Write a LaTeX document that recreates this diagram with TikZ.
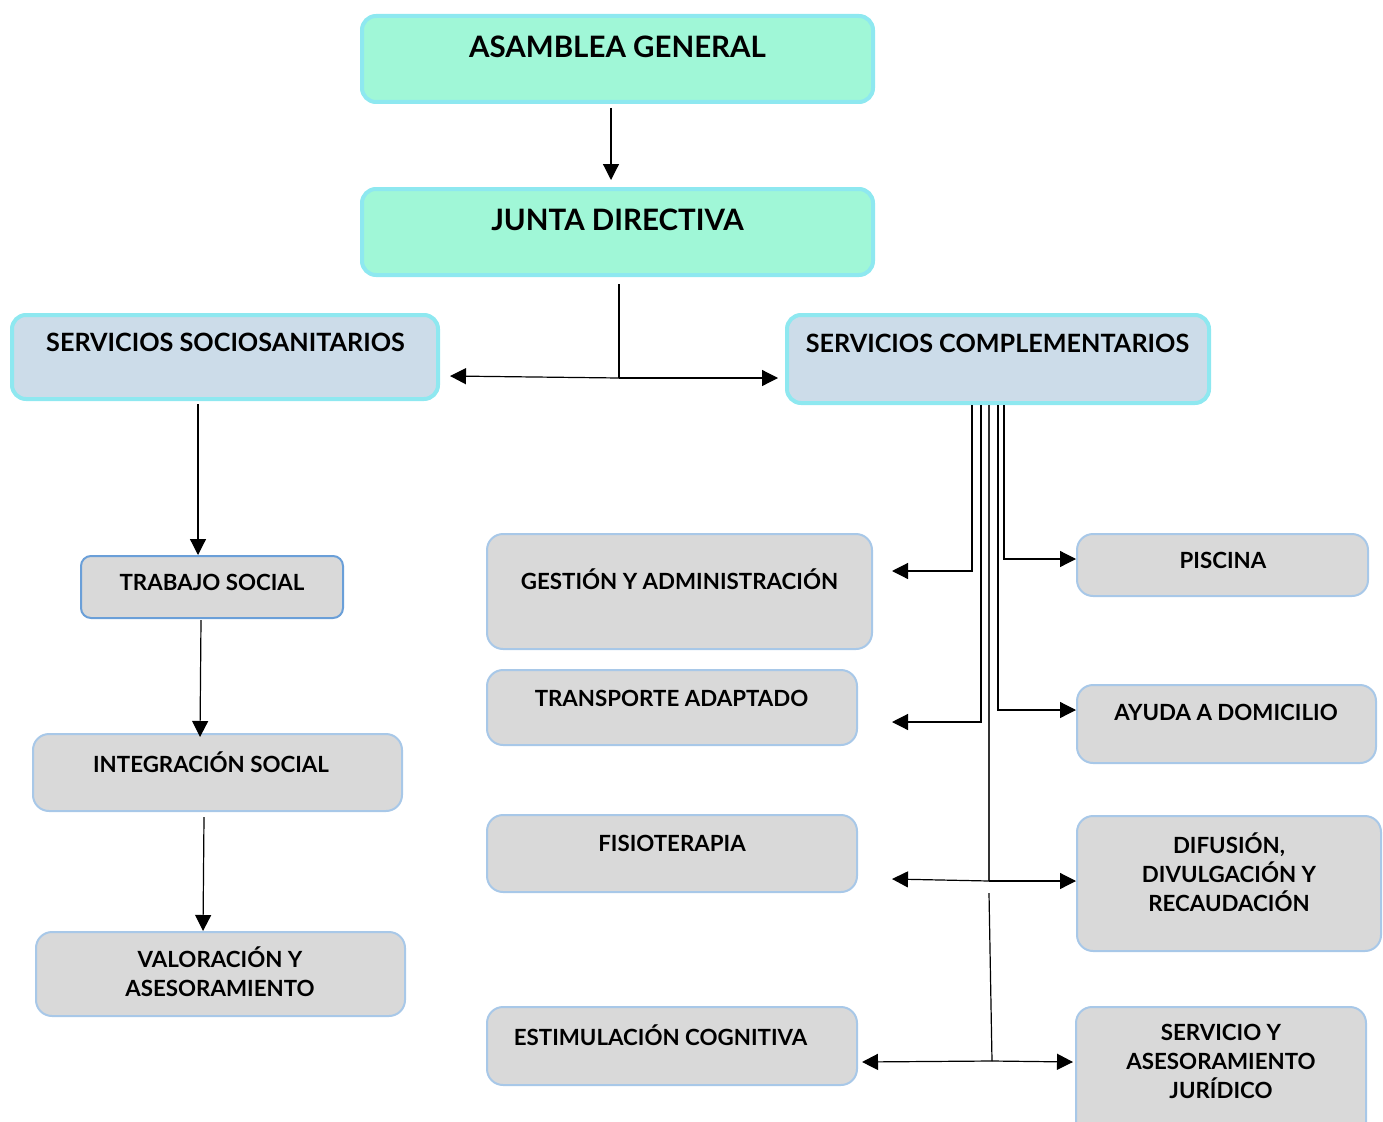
\documentclass[tikz,border=0pt]{standalone}
\usepackage{fontspec}
\setmainfont{Lato}
\usetikzlibrary{arrows.meta,fit}
\definecolor{mint}{HTML}{A0F7D7}
\definecolor{cyanb}{HTML}{8EE8F0}
\definecolor{bluegrey}{HTML}{CCDCE9}
\definecolor{greyf}{HTML}{D9D9D9}
\definecolor{lblue}{HTML}{A8C8E8}
\definecolor{mblue}{HTML}{6A9FD8}
\tikzset{
  topbox/.style={draw=cyanb, fill=mint, line width=4pt, rounded corners=14pt, inner sep=0pt},
  secbox/.style={draw=cyanb, fill=bluegrey, line width=4pt, rounded corners=14pt, inner sep=0pt},
  greybox/.style={draw=lblue, fill=greyf, line width=2pt, rounded corners=16pt, inner sep=0pt},
  tsbox/.style={draw=mblue, fill=greyf, line width=2pt, rounded corners=10pt, inner sep=0pt},
  bigtxt/.style={font=\fontsize{29.5}{36}\selectfont\bfseries, inner sep=0pt, align=center},
  midtxt/.style={font=\fontsize{25.2}{29}\selectfont\bfseries, inner sep=0pt, align=center},
  smtxt/.style={font=\fontsize{22.3}{29}\selectfont\bfseries, inner sep=0pt, align=center},
  arr/.style={draw=black, line width=1.2pt, -{Triangle[length=16pt,width=16pt]}},
  ln/.style={draw=black, line width=1.2pt},
  thk/.style={draw=black!80, line width=2.4pt},
}
\begin{document}
\begin{tikzpicture}[x=1pt,y=-1pt]
\useasboundingbox (0,0) rectangle (1383,1121);
\begin{scope}
\clip (0,0) rectangle (1383,1121);
% boxes
\node[topbox, fit={(362,16) (873,102)}] (ag) {};
\node[topbox, fit={(362,189) (873,275)}] (jd) {};
\node[secbox, fit={(12,315) (438,399)}] (ss) {};
\node[secbox, fit={(787,315) (1209,403)}] (sc) {};
\node[tsbox, fit={(81,556) (343,618)}] (ts) {};
\node[greybox, fit={(33,734) (402,811)}] (is) {};
\node[greybox, fit={(36,932) (405,1016)}] (va) {};
\node[greybox, fit={(487,534) (872,649)}] (ga) {};
\node[greybox, fit={(487,670) (857,745)}] (ta) {};
\node[greybox, fit={(487,815) (857,892)}] (fi) {};
\node[greybox, fit={(487,1007) (857,1085)}] (ec) {};
\node[greybox, fit={(1077,534) (1368,596)}] (pi) {};
\node[greybox, fit={(1077,685) (1376,763)}] (ad) {};
\node[greybox, fit={(1077,816) (1381,951)}] (dd) {};
\node[greybox, fit={(1076,1007) (1366,1140)}] (sj) {};
% texts
\node[bigtxt] (agt) at (617.5,47) {ASAMBLEA GENERAL};
\node[bigtxt] (jdt) at (617.5,220) {JUNTA DIRECTIVA};
\node[midtxt] (sst) at (225.5,342) {SERVICIOS SOCIOSANITARIOS};
\node[midtxt] (sct) at (997.5,343) {SERVICIOS COMPLEMENTARIOS};
\node[smtxt] (tst) at (212,582) {TRABAJO SOCIAL};
\node[smtxt] (ist) at (211,762) {INTEGRACIÓN SOCIAL};
\node[smtxt, anchor=north] (vat) at (220,947) {VALORACIÓN Y\\ASESORAMIENTO};
\node[smtxt] (gat) at (679.5,579) {GESTIÓN Y ADMINISTRACIÓN};
\node[smtxt] (tat) at (671.5,698) {TRANSPORTE ADAPTADO};
\node[smtxt] (fitx) at (672,843) {FISIOTERAPIA};
\node[smtxt] (ect) at (660.5,1035) {ESTIMULACIÓN COGNITIVA};
\node[smtxt] (pit) at (1223,560) {PISCINA};
\node[smtxt] (adt) at (1226,712) {AYUDA A DOMICILIO};
\node[smtxt, anchor=north] (ddt) at (1229,833) {DIFUSIÓN,\\DIVULGACIÓN Y\\RECAUDACIÓN};
\node[smtxt, anchor=north] (sjt) at (1221,1024) {SERVICIO Y\\ASESORAMIENTO\\JURÍDICO};
% junction coordinates
\coordinate (j1) at (619,378);
\coordinate (f1) at (989,881);
\coordinate (f2) at (989,893);
\coordinate (e1) at (992,1061);
% connectors
\draw[arr] ([xshift=-6.5pt,yshift=-4pt]ag.south) -- ([xshift=-6.5pt,yshift=7pt]jd.north);
\draw[ln] ([xshift=1.5pt,yshift=-7pt]jd.south) -- (j1);
\draw[arr] (j1) -- ([xshift=10pt,yshift=2pt]ss.east |- j1);
\draw[arr] (j1) -- ([xshift=-7pt]sc.west |- j1);
\draw[arr] ([xshift=-27pt,yshift=-3pt]ss.south) -- ([xshift=-14pt]ts.north);
\draw[arr] ([xshift=-11pt,yshift=-1pt]ts.south) -- ([xshift=-17.5pt,yshift=-4pt]is.north);
\draw[arr] ([xshift=-13.5pt,yshift=-5pt]is.south) -- ([xshift=-17.5pt]va.north);
\draw[arr] ([xshift=-26pt]sc.south) |- ([xshift=19pt,yshift=20.5pt]ga.east);
\draw[arr] ([xshift=-17pt]sc.south) |- ([xshift=34pt,yshift=-14.5pt]ta.east);
\draw[arr] (sc.south) |- ([yshift=14pt]ad.west);
\draw[arr] ([xshift=6pt]sc.south) |- ([yshift=6pt]pi.west);
\draw[thk] ([xshift=-9pt]sc.south) -- (f1);
\draw[arr] (f1) -- ([xshift=34pt,yshift=-25.5pt]fi.east);
\draw[arr] (f1) -- ([yshift=2.5pt]dd.west);
\draw[ln] (f2) -- (e1);
\draw[arr] (e1) -- ([xshift=4pt,yshift=-16pt]ec.east);
\draw[arr] (e1) -- ([xshift=-2pt,yshift=11.5pt]sj.west);
\end{scope}
\end{tikzpicture}
\end{document}
